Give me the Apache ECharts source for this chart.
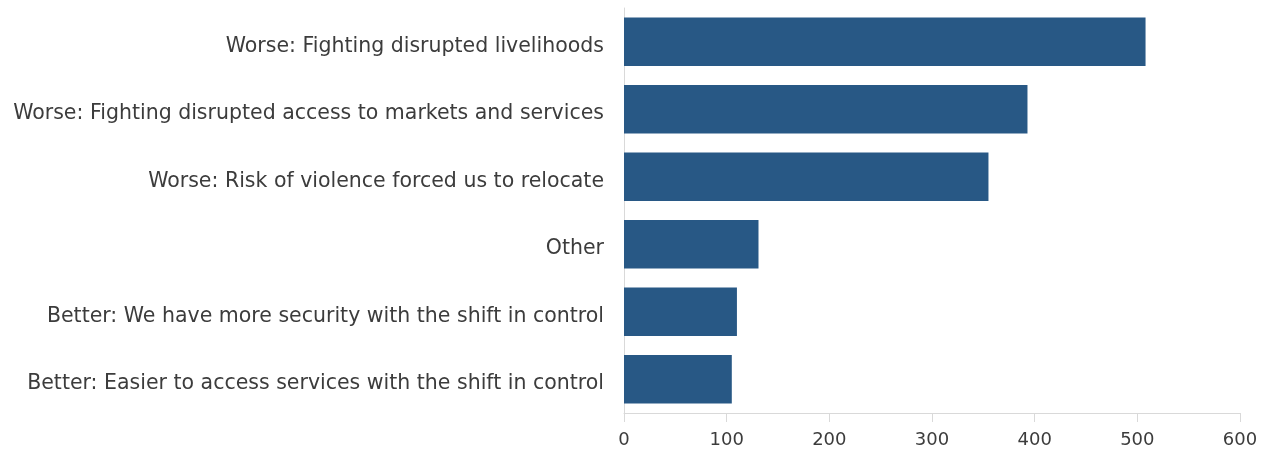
<!DOCTYPE html>
<html><head><meta charset="utf-8">
<script src="https://cdn.jsdelivr.net/npm/echarts@6/dist/echarts.min.js"></script>
<style>html,body{margin:0;padding:0;background:#fff}#c{width:1269px;height:449px}</style>
</head><body><div id="c"></div>
<script>
const categories = [
  "Worse: Fighting disrupted livelihoods",
  "Worse: Fighting disrupted access to markets and services",
  "Worse: Risk of violence forced us to relocate",
  "Other",
  "Better: We have more security with the shift in control",
  "Better: Easier to access services with the shift in control"
];
const values = [508, 393, 355, 131, 110, 105];
const xTicks = [0, 100, 200, 300, 400, 500, 600];

const chart = echarts.init(document.getElementById('c'));
const font = 'DejaVu Sans';
chart.setOption({
  animation: false,
  grid: {left: 624, right: 29, top: 8, bottom: 35, containLabel: false},
  xAxis: {
    type: 'value', min: xTicks[0], max: xTicks[xTicks.length-1], interval: 100,
    axisLine: {show: true, lineStyle: {color: '#d9d9d9', width: 1}},
    axisTick: {show: true, length: 9, lineStyle: {color: '#d9d9d9'}},
    splitLine: {show: false},
    axisLabel: {color: '#3c3c3c', fontSize: 18, fontFamily: font, margin: 18}
  },
  yAxis: {
    type: 'category', data: categories, inverse: true,
    axisLine: {show: true, lineStyle: {color: '#d9d9d9', width: 1}},
    axisTick: {show: false},
    axisLabel: {color: '#3c3c3c', fontSize: 20.5, fontFamily: font, margin: 20, verticalAlign: 'top', lineHeight: 9}
  },
  series: [{
    type: 'bar', data: values, barCategoryGap: '28%',
    itemStyle: {color: '#285885'}
  }]
});
</script></body></html>
